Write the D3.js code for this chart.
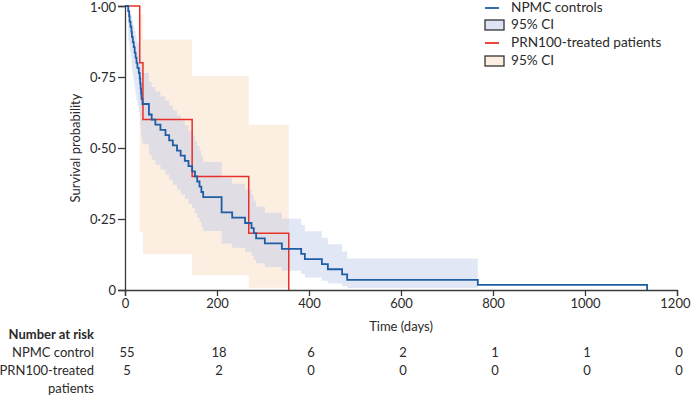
<!DOCTYPE html>
<html><head><meta charset="utf-8">
<script src="https://cdn.jsdelivr.net/npm/d3@7"></script>
<style>
html,body{margin:0;padding:0;background:#fff;}
text{font-family:Lato, "Open Sans", sans-serif;fill:#2a2a2a;}
</style></head>
<body><svg id="c" width="691" height="399"></svg>
<script>
// ---- data ----
const npmcTime = [0,7,9,10,12,14,15,17,19,21,23,25,27,30,32,33,34,35,36,38,52,58,66,77,88,96,104,113,121,130,138,146,152,157,162,166,170,210,233,261,275,280,285,304,341,383,391,428,441,472,483,767,1135];
const npmcSurv = [1,0.982,0.964,0.945,0.927,0.909,0.891,0.873,0.855,0.836,0.818,0.800,0.782,0.764,0.745,0.727,0.709,0.691,0.673,0.655,0.618,0.600,0.582,0.564,0.545,0.527,0.509,0.491,0.473,0.455,0.436,0.418,0.400,0.382,0.364,0.345,0.327,0.273,0.255,0.236,0.218,0.200,0.182,0.164,0.145,0.127,0.109,0.091,0.073,0.055,0.036,0.018,0];
const npmcLower = [1,0.878,0.862,0.840,0.818,0.795,0.773,0.752,0.730,0.709,0.688,0.668,0.648,0.628,0.608,0.589,0.570,0.551,0.532,0.513,0.477,0.459,0.441,0.423,0.406,0.388,0.371,0.354,0.337,0.320,0.304,0.288,0.271,0.255,0.240,0.224,0.208,0.164,0.149,0.135,0.121,0.107,0.094,0.081,0.068,0.056,0.044,0.033,0.023,0.014,0.007];
const npmcUpper = [1,0.997,0.991,0.982,0.972,0.961,0.950,0.937,0.925,0.911,0.898,0.884,0.870,0.855,0.841,0.826,0.811,0.795,0.780,0.764,0.732,0.715,0.699,0.682,0.666,0.649,0.632,0.614,0.597,0.579,0.561,0.544,0.525,0.507,0.489,0.470,0.451,0.394,0.374,0.354,0.334,0.314,0.293,0.272,0.251,0.229,0.207,0.184,0.161,0.136,0.111];
const npmcBandEnd = 767;

const prnTime = [0,32,39,146,269,356];
const prnSurv = [1,0.8,0.6,0.4,0.2,0];
const prnLower = [1,0.204,0.126,0.052,0.008];
const prnUpper = [1,0.969,0.882,0.753,0.582];
const prnBandEnd = 356;

const xTicks = [0,200,400,600,800,1000,1200];
const yTicks = [0,0.25,0.5,0.75,1];
const riskTimes = [0,200,400,600,800,1000,1200];
const npmcRisk = [55,18,6,2,1,1,0];
const prnRisk = [5,2,0,0,0,0,0];

// ---- chart ----
const svg = d3.select("#c");
const x = d3.scaleLinear().domain([0,1200]).range([125,677]);
const y = d3.scaleLinear().domain([0,1]).range([290,6]);
const FS = "13px";

const bandData = (times, lo, hi, end) => {
  const d = lo.map((l,i)=>({t:times[i], lo:l, hi:hi[i]}));
  d.push({t:end, lo:lo[lo.length-1], hi:hi[hi.length-1]});
  return d;
};
const area = d3.area().curve(d3.curveStepAfter).x(d=>x(d.t)).y0(d=>y(d.lo)).y1(d=>y(d.hi));
const line = d3.line().curve(d3.curveStepAfter).x(d=>x(d.t)).y(d=>y(d.s));

const peach = "#fdeee2", blueFill = "#b8c6e8";
svg.append("path").datum(bandData(prnTime,prnLower,prnUpper,prnBandEnd))
  .attr("d",area).attr("fill",peach);
svg.append("path").datum(bandData(npmcTime,npmcLower,npmcUpper,npmcBandEnd))
  .attr("d",area).attr("fill",blueFill).attr("fill-opacity",0.42);

svg.append("path").datum(prnTime.map((t,i)=>({t,s:prnSurv[i]})))
  .attr("d",line).attr("fill","none").attr("stroke","#e8302a").attr("stroke-width",1.5);
svg.append("path").datum(npmcTime.map((t,i)=>({t,s:npmcSurv[i]})))
  .attr("d",line).attr("fill","none").attr("stroke","#1f5da6").attr("stroke-width",1.8);

// axes
const fmt = d => d===0 ? "0" : d3.format(".2f")(d).replace(".","\u00b7");
const yAxis = svg.append("g").attr("transform","translate(125,0)")
  .call(d3.axisLeft(y).tickValues(yTicks).tickFormat(fmt).tickSizeOuter(0).tickSize(7).tickPadding(2));
const xAxis = svg.append("g").attr("transform","translate(0,290)")
  .call(d3.axisBottom(x).tickValues(xTicks).tickFormat(d3.format("d")).tickSizeOuter(0).tickSize(6).tickPadding(3));
[yAxis,xAxis].forEach(g=>{
  g.selectAll("path,line").attr("stroke","#3a3a3a").attr("stroke-width",1.3);
  g.selectAll("text").attr("fill","#2a2a2a").style("font-family","Lato, sans-serif").style("font-size",FS);
});
yAxis.selectAll(".tick text").filter(d=>d===1).attr("dy","0.45em");
xAxis.selectAll(".tick text").filter(d=>d===1200).attr("text-anchor","end").attr("dx","13px");

svg.append("text").attr("transform","translate(77,148) rotate(-90)")
  .attr("text-anchor","middle").attr("dominant-baseline","middle")
  .style("font-size",FS).text("Survival probability");
svg.append("text").attr("x",401).attr("y",328).attr("text-anchor","middle")
  .attr("dominant-baseline","middle").style("font-size",FS).text("Time (days)");

// legend
const leg = svg.append("g");
const legItems = [
  {type:"line", color:"#1f5da6", label:"NPMC controls", y:8},
  {type:"box", color:"#dde3f2", label:"95% CI", y:25},
  {type:"line", color:"#e8302a", label:"PRN100-treated patients", y:43},
  {type:"box", color:"#fdeee2", label:"95% CI", y:61}
];
legItems.forEach(it=>{
  if(it.type==="line"){
    leg.append("line").attr("x1",485).attr("x2",499).attr("y1",it.y).attr("y2",it.y)
      .attr("stroke",it.color).attr("stroke-width",1.8);
  } else {
    leg.append("rect").attr("x",485).attr("y",it.y-5).attr("width",19).attr("height",10)
      .attr("fill",it.color).attr("stroke","#333").attr("stroke-width",1.3);
  }
  leg.append("text").attr("x",511).attr("y",it.y+1).attr("dominant-baseline","middle")
    .style("font-size","13.6px").text(it.label);
});

// number at risk
const rowLabel = (txt, yy, bold) => svg.append("text").attr("x",94).attr("y",yy)
  .attr("text-anchor","end").attr("dominant-baseline","middle")
  .style("font-size",FS).style("font-weight",bold?"bold":"normal").text(txt);
rowLabel("Number at risk",336,true);
rowLabel("NPMC control",354);
rowLabel("PRN100-treated",372);
rowLabel("patients",390);
svg.selectAll(".r1").data(riskTimes).enter().append("text")
  .attr("x",(d)=>x(d)+2).attr("y",354).attr("text-anchor","middle").attr("dominant-baseline","middle")
  .style("font-size",FS).text((d,i)=>npmcRisk[i]);
svg.selectAll(".r2").data(riskTimes).enter().append("text")
  .attr("x",(d)=>x(d)+2).attr("y",372).attr("text-anchor","middle").attr("dominant-baseline","middle")
  .style("font-size",FS).text((d,i)=>prnRisk[i]);
</script></body></html>
